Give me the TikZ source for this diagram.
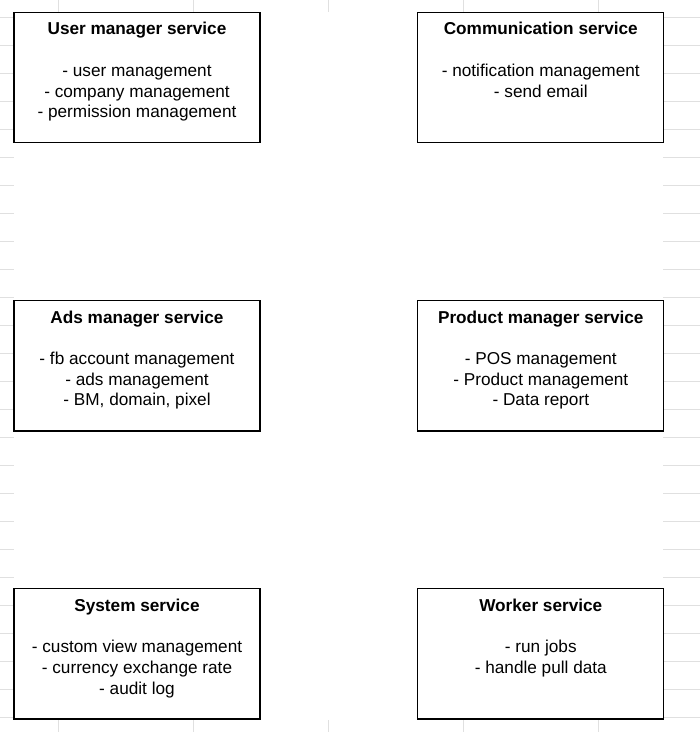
\documentclass[tikz,border=0pt]{standalone}
\usepackage{fontspec}
\setmainfont{Liberation Sans}
\usetikzlibrary{positioning}

\begin{document}
\begin{tikzpicture}[x=1pt,y=1pt,line cap=round,
    svcbox/.style={draw,line width=1.3pt,minimum width=246pt,minimum height=130.5pt,inner sep=0pt},
    svctext/.style={align=center,inner sep=0pt,font=\fontsize{17.2}{20.7}\selectfont}]
      \useasboundingbox (0,0) rectangle (700,732);
      \draw[black!12,line width=0.9pt,xstep=135,ystep=28,xshift=58pt,yshift=14.7pt]
        (-58,-14.7) grid (642,717.3);
      \fill[white] (14,12) rectangle (663,720);

      % services
      \node[svcbox] (user) at (137,654.5) {};
      \node[svcbox] (comm) at (540.8,654.5) {};
      \node[svcbox] (ads) at (137,366.3) {};
      \node[svcbox] (product) at (540.8,366.3) {};
      \node[svcbox] (system) at (137,78.2) {};
      \node[svcbox] (worker) at (540.8,78.2) {};

      \node[svctext,below=10.7pt of user.north] (usertxt)
        {\textbf{User manager service}\\[20.7pt]- user management\\- company management\\- permission management};
      \node[svctext,below=10.7pt of comm.north] (commtxt)
        {\textbf{Communication service}\\[20.7pt]- notification management\\- send email};
      \node[svctext,below=10.7pt of ads.north] (adstxt)
        {\textbf{Ads manager service}\\[20.7pt]- fb account management\\- ads management\\- BM, domain, pixel};
      \node[svctext,below=10.7pt of product.north] (producttxt)
        {\textbf{Product manager service}\\[20.7pt]- POS management\\- Product management\\- Data report};
      \node[svctext,below=10.7pt of system.north] (systemtxt)
        {\textbf{System service}\\[20.7pt]- custom view management\\- currency exchange rate\\- audit log};
      \node[svctext,below=10.7pt of worker.north] (workertxt)
        {\textbf{Worker service}\\[20.7pt]- run jobs\\- handle pull data};
\end{tikzpicture}
\end{document}
